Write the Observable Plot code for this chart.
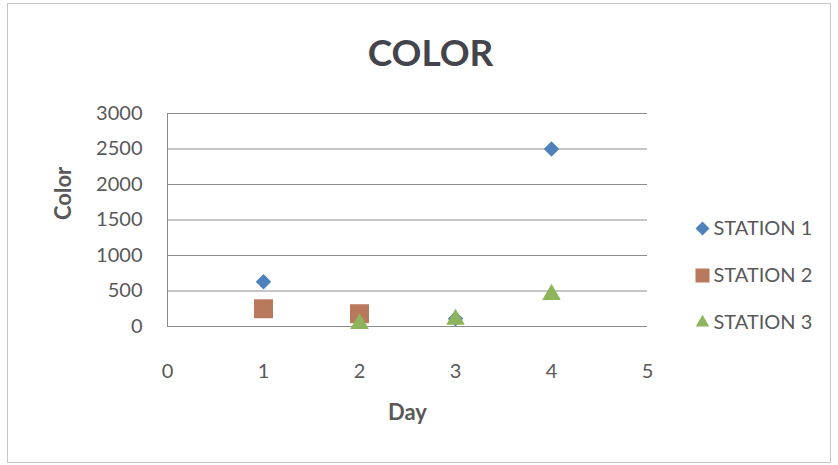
<!DOCTYPE html>
<html>
<head>
<meta charset="utf-8">
<script src="https://cdn.jsdelivr.net/npm/d3@7"></script>
<script src="https://cdn.jsdelivr.net/npm/@observablehq/plot@0.6"></script>
<style>
  body { margin: 0; background: #fff; }
  #chart { position: relative; width: 838px; height: 465px; }
  #border { position: absolute; left: 7px; top: 3px; width: 822px; height: 458px; border: 1px solid #c6c6c6; }
  #chart svg { position: absolute; left: 0; top: 0; }
</style>
</head>
<body>
<div id="chart"><div id="border"></div></div>
<script>
// Colour readings per station, by day (null = no reading)
const days = [1, 2, 3, 4];
const seriesNames = ["STATION 1", "STATION 2", "STATION 3"];
const station1 = [630, null, 110, 2500];
const station2 = [250, 180, null, null];
const station3 = [null, 40, 100, 450];
const xTicks = [0, 1, 2, 3, 4, 5];
const yTicks = [0, 500, 1000, 1500, 2000, 2500, 3000];

const seriesValues = [station1, station2, station3];
const colors = ["#4F81BD", "#B8795C", "#8DB45A"];
const symbols = ["diamond2", "square", "triangle"];
const radii = [7, 10.7, 6.9];
const legendRadii = [6.3, 7.9, 5];

const rows = seriesValues.map((vals, s) =>
  days.map((d, i) => ({day: d, value: vals[i], series: seriesNames[s]}))
      .filter(r => r.value != null)
);

const font = "Lato, 'Open Sans', sans-serif";
const textGray = "#595959";

const marks = [
  Plot.gridY(yTicks, {stroke: "#8c8c8c", strokeOpacity: 1}),
  Plot.ruleX([0], {stroke: "#8c8c8c"}),
  Plot.ruleY([0], {stroke: "#8c8c8c"}),
  Plot.axisX(xTicks, {tickSize: 0, tickPadding: 37, fontSize: 20, fill: textGray, label: null}),
  Plot.axisY(yTicks, {tickSize: 0, tickPadding: 25, fontSize: 20, fill: textGray, label: null,
    tickFormat: d => String(d)}),
  // points, drawn in series order so later stations sit on top
  ...rows.map((data, s) => Plot.dot(data, {
    x: "day", y: "value", symbol: () => symbols[s], r: radii[s],
    fill: colors[s], stroke: "none"
  })),
  // title
  Plot.text(["COLOR"], {frameAnchor: "top", lineAnchor: "bottom", dx: 23, dy: -48,
    fontSize: 37, fontWeight: "bold", fill: "#44454c"}),
  // axis titles
  Plot.text(["Color"], {frameAnchor: "left", dx: -104, rotate: -90, lineAnchor: "middle",
    fontSize: 22, fontWeight: "bold", fill: textGray}),
  Plot.text(["Day"], {frameAnchor: "bottom", dy: 86, lineAnchor: "middle",
    fontSize: 22, fontWeight: "bold", fill: textGray}),
  // legend
  ...seriesNames.flatMap((name, s) => [
    Plot.dot([name], {frameAnchor: "top-right", dx: 55, dy: 115 + 47 * s,
      symbol: () => symbols[s], r: legendRadii[s], fill: colors[s], stroke: "none"}),
    Plot.text([name], {frameAnchor: "top-right", dx: 66, dy: 115 + 47 * s,
      textAnchor: "start", lineAnchor: "middle", fontSize: 20, fill: textGray})
  ])
];

const chart = Plot.plot({
  width: 838,
  height: 465,
  marginLeft: 167,
  marginRight: 191,
  marginTop: 113,
  marginBottom: 139,
  style: {fontFamily: font, background: "transparent", overflow: "visible"},
  x: {domain: [0, 5]},
  y: {domain: [0, 3000]},
  symbol: {type: "identity"},
  marks
});
document.getElementById("chart").appendChild(chart);
</script>
</body>
</html>
